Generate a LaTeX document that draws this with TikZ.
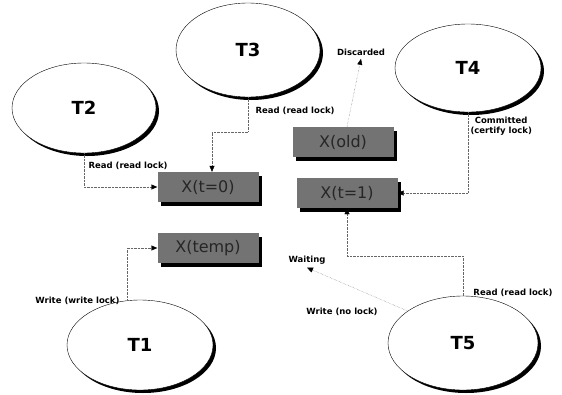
\documentclass[tikz,border=0pt]{standalone}
\usepackage{fontspec}
\setmainfont{DejaVu Sans}
\usepackage{tikz}
\usetikzlibrary{positioning, arrows.meta, shapes.geometric, shadows}

\begin{document}
\begin{tikzpicture}[x=1pt, y=-1pt,
  every node/.style={font=\fontsize{8.5}{10}\selectfont\bfseries},
  txn/.style={ellipse, draw=black, thin, fill=white, inner sep=0pt,
    font=\fontsize{18}{20}\selectfont\bfseries,
    drop shadow={shadow xshift=3pt, shadow yshift=-3pt, fill=black, opacity=1}},
  ver/.style={rectangle, fill=black!55, text=black!85, inner sep=0pt,
    minimum width=101pt, minimum height=30pt, font=\fontsize{16}{18}\selectfont,
    drop shadow={shadow xshift=3pt, shadow yshift=-4pt, fill=black, opacity=1}},
  link/.style={black!60, densely dotted, thin, -{Triangle[black, length=6pt, width=5pt]}}]
  \useasboundingbox (0,0) rectangle (562,394);
  % Transactions
  \node[txn, minimum width=144pt, minimum height=90pt] (t2) at (84,108) {T2};
  \node[txn, minimum width=144pt, minimum height=94pt] (t3) at (248,50) {T3};
  \node[txn, minimum width=146pt, minimum height=88pt] (t4) at (468,68) {T4};
  \node[txn, minimum width=146pt, minimum height=90pt] (t1) at (140,345) {T1};
  \node[txn, minimum width=150pt, minimum height=94pt] (t5) at (463,343) {T5};
  % Versions of X
  \node[ver] (xa) at (208,187) {X(t=0)};
  \node[ver] (xb) at (208,248) {X(temp)};
  \node[ver] (xc) at (343,142) {X(old)};
  \node[ver] (xd) at (347,193) {X(t=1)};
  % Free labels
  \node (disc) at (361,52) {Discarded};
  \node (wait) at (307,260) {Waiting};
  % Left side: reads and write
  \draw[link] (t2.south) |- (xa.west);
  \node[anchor=west] (lt2) at (85,166) {Read (read lock)};
  \coordinate (t3turn) at (212,132);
  \draw[link] (t3.south) |- (t3turn) -- (t3turn |- xa.north);
  \node[anchor=west] (lt3) at (252,111) {Read (read lock)};
  \draw[link] (t1.106) |- (xb.west);
  \node[anchor=east] (lt1) at (123,301) {Write (write lock)};
  % Right side: certify, discard, waiting
  \draw[link] ([xshift=4pt]xc.north) -- (disc.south);
  \draw[link] (t4.south) |- (xd.east);
  \node[anchor=west, align=center, font=\fontsize{8.5}{9.5}\selectfont\bfseries] (lt4) at (467,126) {Committed\\(certify lock)};
  \coordinate (t5turn) at (347,256);
  \draw[link] (t5.north) |- (t5turn) -- (t5turn |- xd.south);
  \node (lt5r) at (513,293) {Read (read lock)};
  \draw[link] (t5.150) -- (wait.south);
  \node (lt5w) at (342,312) {Write (no lock)};
\end{tikzpicture}
\end{document}
